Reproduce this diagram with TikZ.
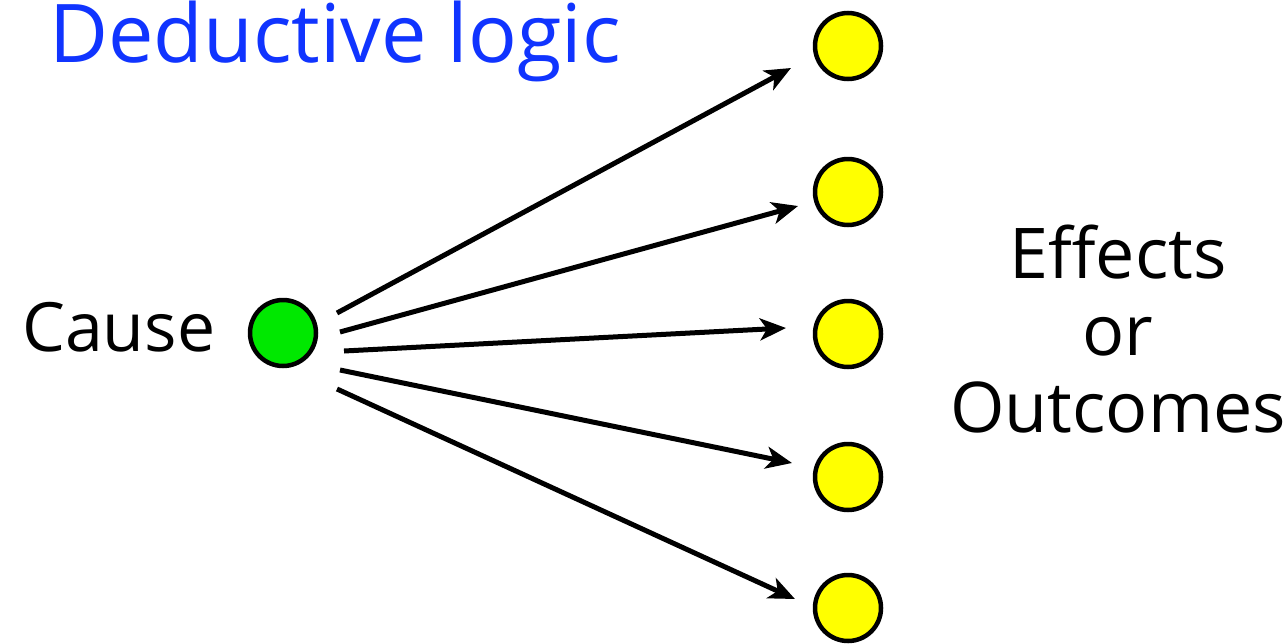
\documentclass[tikz,border=0pt]{standalone}
\usepackage{fontspec}
\setmainfont{Open Sans}
\usetikzlibrary{arrows.meta}
\definecolor{titleblue}{RGB}{16,52,255}
\definecolor{causegreen}{RGB}{0,232,0}
\definecolor{effyellow}{RGB}{255,255,0}
\tikzset{
  dot/.style={circle, draw=black, line width=4.5pt, minimum size=66pt, inner sep=0pt},
  causedot/.style={dot, fill=causegreen},
  effdot/.style={dot, fill=effyellow},
  link/.style={line width=5pt, -{Stealth[length=26pt,width=22pt,inset=7pt]}},
  lbl/.style={inner sep=0pt, font=\fontsize{68}{77}\selectfont, align=center}
}
\begin{document}
\begin{tikzpicture}[x=1pt,y=-1pt]
\useasboundingbox (0,0) rectangle (1285,643);
\node[lbl, anchor=base west, text=titleblue, font=\fontsize{81}{85}\selectfont] (title) at (49,62) {Deductive logic};
\node[lbl, anchor=base west] (cause) at (22,351) {Cause};
\node[lbl, anchor=base, font=\fontsize{70}{77}\selectfont] (effects) at (1118,432) {Effects\\or\\Outcomes};
\node[causedot] (c) at (283,333) {};
\node[effdot] (e1) at (848,46) {};
\node[effdot] (e2) at (848,192) {};
\node[effdot] (e3) at (848,334) {};
\node[effdot] (e4) at (848,477) {};
\node[effdot] (e5) at (848,608) {};
\coordinate (s1) at (337,313);
\coordinate (s2) at (340,332);
\coordinate (s3) at (344,351);
\coordinate (s4) at (340,370);
\coordinate (s5) at (337,389);
\coordinate (t1) at (791,68);
\coordinate (t2) at (798,206);
\coordinate (t3) at (786,328);
\coordinate (t4) at (792,463);
\coordinate (t5) at (795,599);
\draw[link] (s1) -- (t1);
\draw[link] (s2) -- (t2);
\draw[link] (s3) -- (t3);
\draw[link] (s4) -- (t4);
\draw[link] (s5) -- (t5);
\end{tikzpicture}
\end{document}
